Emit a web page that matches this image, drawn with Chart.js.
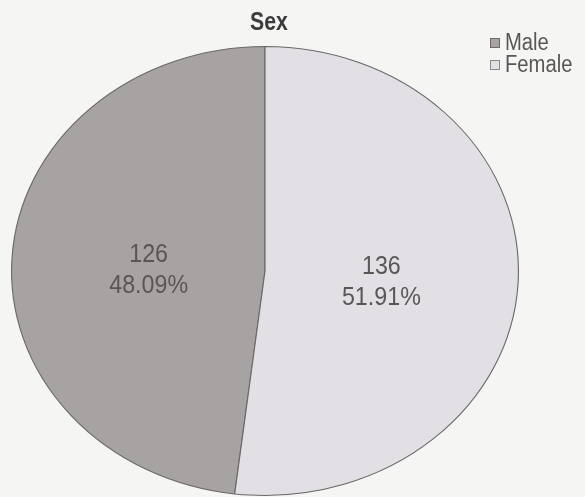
<!DOCTYPE html>
<html>
<head>
<meta charset="utf-8">
<script src="https://cdn.jsdelivr.net/npm/chart.js@4"></script>
<style>
  html, body { margin: 0; padding: 0; background: #f5f5f4; }
  #wrap { position: relative; width: 585px; height: 497px; }
</style>
</head>
<body>
<div id="wrap"><canvas id="pieChart"></canvas></div>
<script>
const chartTitle = 'Sex';
const categories = ['Male', 'Female'];
const counts = [126, 136];
const sliceColors = ['#a8a3a3', '#e2e0e4'];
const legendBorders = ['#6f6a6a', '#8a8888'];

const textFont = '"Liberation Sans", Arial, sans-serif';
const total = counts.reduce((a, b) => a + b, 0);

// the pie is printed a little wider than tall
const stretchX = 254 / 225;

// condensed-looking text: draw a regular face squeezed sideways
function narrowText(ctx, text, x, y, squeeze) {
    ctx.save();
    ctx.translate(x, y);
    ctx.scale(squeeze, 1);
    ctx.fillText(text, 0, 0);
    ctx.restore();
}

const ellipsePlugin = {
    id: 'ellipse',
    beforeDatasetsDraw(chart) {
        const arc = chart.getDatasetMeta(0).data[0];
        const ctx = chart.ctx;
        ctx.save();
        ctx.translate(arc.x, arc.y);
        ctx.scale(stretchX, 1);
        ctx.translate(-arc.x, -arc.y);
    },
    afterDatasetsDraw(chart) {
        const ctx = chart.ctx;
        ctx.restore();

        // count + percent inside each slice
        ctx.save();
        ctx.fillStyle = '#5a5656';
        ctx.textAlign = 'center';
        ctx.textBaseline = 'middle';
        ctx.font = '25px ' + textFont;
        chart.getDatasetMeta(0).data.forEach((arc, i) => {
            const mid = (arc.startAngle + arc.endAngle) / 2;
            const r = arc.outerRadius * 0.46;
            const x = arc.x + Math.cos(mid) * r * stretchX;
            const y = arc.y + Math.sin(mid) * r + 5;
            const pct = (counts[i] / total * 100).toFixed(2) + '%';
            narrowText(ctx, String(counts[i]), x, y - 15, 0.93);
            narrowText(ctx, pct, x, y + 16, 0.93);
        });

        // title
        ctx.fillStyle = '#3c3a3a';
        ctx.font = 'bold 25px ' + textFont;
        narrowText(ctx, chartTitle, 269, 23, 0.85);

        // legend
        ctx.textAlign = 'left';
        ctx.font = '23px ' + textFont;
        categories.forEach((name, i) => {
            const y = 43 + i * 22;
            ctx.fillStyle = sliceColors[i];
            ctx.fillRect(490, y - 5, 10, 10);
            ctx.strokeStyle = legendBorders[i];
            ctx.lineWidth = 1;
            ctx.strokeRect(490.5, y - 4.5, 9, 9);
            ctx.fillStyle = '#5a5656';
            narrowText(ctx, name, 505, y + 1, 0.88);
        });
        ctx.restore();
    }
};

const ctx = document.getElementById('pieChart').getContext('2d');
const pieChart = new Chart(ctx, {
    type: 'pie',
    data: {
        labels: categories,
        datasets: [{
            data: counts,
            backgroundColor: sliceColors,
            borderColor: '#6c6868',
            borderWidth: 1
        }]
    },
    options: {
        responsive: true,
        maintainAspectRatio: false,
        animation: false,
        // Male ends at 12 o'clock, Female runs clockwise from there
        rotation: -(counts[0] / total) * 360,
        layout: {
            padding: { left: 40, right: 95, top: 46, bottom: 1 }
        },
        plugins: {
            legend: { display: false },
            title: { display: false },
            tooltip: { enabled: false }
        }
    },
    plugins: [ellipsePlugin]
});
</script>
</body>
</html>
